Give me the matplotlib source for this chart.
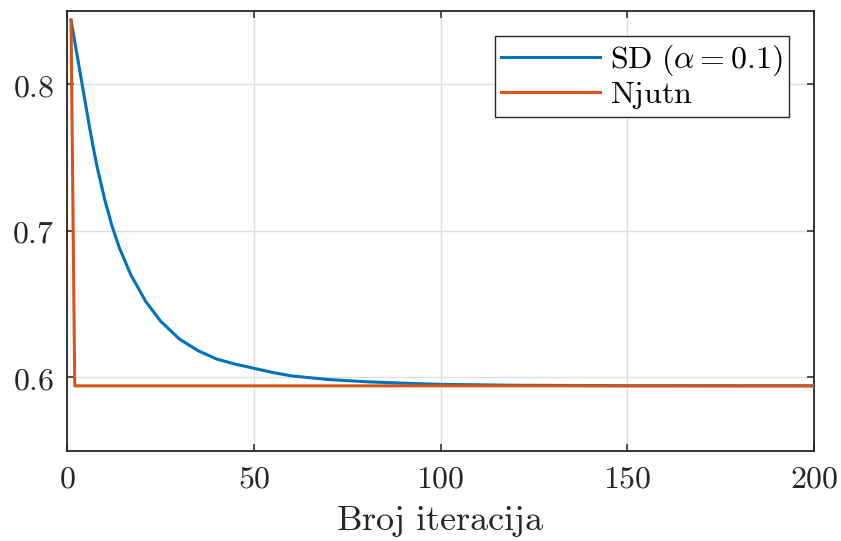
import matplotlib
matplotlib.use("Agg")
import matplotlib.pyplot as plt
from matplotlib.ticker import FuncFormatter

plt.rcParams['mathtext.fontset'] = 'cm'

# SD (alpha = 0.1) values
sd_iter = [1, 2, 3, 4, 5, 6, 7, 8, 10, 12, 14, 17, 21, 25, 30, 35, 40, 45, 50, 55, 60,
           70, 80, 90, 100, 120, 150, 200]
sd_val = [0.8437, 0.8290, 0.8143, 0.7995, 0.7848, 0.7700, 0.7562, 0.7434, 0.7215, 0.7030,
          0.6880, 0.6700, 0.6518, 0.6383, 0.6262, 0.6182, 0.6125, 0.6090, 0.6062, 0.6033,
          0.6010, 0.5985, 0.5970, 0.5960, 0.5952, 0.5946, 0.5943, 0.5942]

# Newton ("Njutn") values
nw_iter = [1, 2, 200]
nw_val = [0.8437, 0.5942, 0.5942]

x_ticks = [0, 50, 100, 150, 200]
y_ticks = [0.6, 0.7, 0.8]

fig = plt.figure(figsize=(8.41, 5.41), dpi=100)
ax = fig.add_axes([0.080, 0.167, 0.888, 0.813])

ax.plot(sd_iter, sd_val, color='#0072BD', lw=2.2, label=r'$\mathrm{SD}\ (\alpha = 0.1)$', zorder=3)
ax.plot(nw_iter, nw_val, color='#D95319', lw=2.2, label=r'$\mathrm{Njutn}$', zorder=3)

ax.set_xlim(0, 200)
ax.set_ylim(0.55, 0.85)
ax.set_xticks(x_ticks)
ax.set_yticks(y_ticks)
ax.xaxis.set_major_formatter(FuncFormatter(lambda v, p: r'$%d$' % v))
ax.yaxis.set_major_formatter(FuncFormatter(lambda v, p: r'$%.1f$' % v))
ax.tick_params(direction='in', length=5, width=1.1, top=True, right=True,
               labelsize=23, colors='#262626', pad=9)
for s in ax.spines.values():
    s.set_linewidth(1.3)
    s.set_color('#262626')
ax.grid(True, color='#dedede', lw=1.0)
ax.set_axisbelow(True)
ax.set_xlabel(r'$\mathrm{Broj\ iteracija}$', fontsize=26, color='#262626', labelpad=7)

leg = ax.legend(loc='upper right', fontsize=23, handlelength=3.1, fancybox=False,
                framealpha=1, edgecolor='#262626', borderaxespad=0.8,
                borderpad=0.2, labelspacing=0.02, handletextpad=0.3)
leg.get_frame().set_linewidth(1.0)

fig.savefig('out.png', dpi=100)
